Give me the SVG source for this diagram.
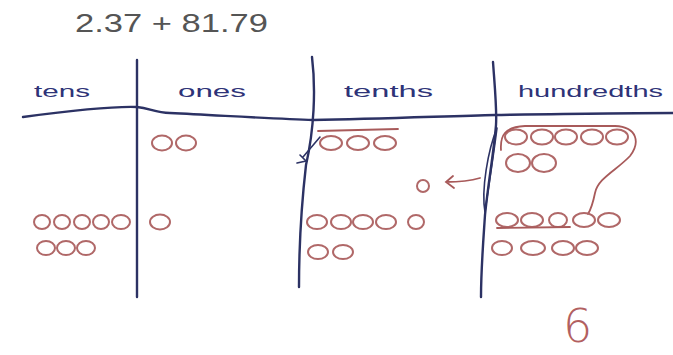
<svg xmlns="http://www.w3.org/2000/svg" width="673" height="355" viewBox="0 0 673 355">
<style>
.ln{fill:none;stroke:#2c3264;stroke-width:2.4;stroke-linecap:round}
.thin{fill:none;stroke:#2c3264;stroke-width:1.6;stroke-linecap:round}
.c{fill:none;stroke:#b06868;stroke-width:2}
.rd{fill:none;stroke:#a85a5a;stroke-width:1.8;stroke-linecap:round}
.lbl{font-family:"Liberation Sans",Arial,sans-serif;font-size:17px;fill:#2e3378}
.title{font-family:"Liberation Sans",Arial,sans-serif;font-size:25px;fill:#555}
</style>
<rect width="673" height="355" fill="#fff"/>
<text class="title" x="75" y="32" textLength="193" lengthAdjust="spacingAndGlyphs">2.37 + 81.79</text>
<g id="labels">
<text class="lbl" x="34" y="97" textLength="56" lengthAdjust="spacingAndGlyphs">tens</text>
<text class="lbl" x="178" y="97" textLength="68" lengthAdjust="spacingAndGlyphs">ones</text>
<text class="lbl" x="344" y="97" textLength="89" lengthAdjust="spacingAndGlyphs">tenths</text>
<text class="lbl" x="518" y="97" textLength="145" lengthAdjust="spacingAndGlyphs">hundredths</text>
</g>
<g id="grid">
<path class="ln" d="M23,117 C60,112 110,106 137,107 C150,108 155,113 170,113 C230,116 280,119 313,120 C380,119 450,116 495,115 C560,114 620,113 673,113"/>
<path class="ln" d="M137,60 L137,297"/>
<path class="ln" d="M312,57 C316,90 314,130 306,165 C302,200 299,250 299,287"/>
<path class="ln" d="M493,62 C495,90 497,110 496,125 C494,150 488,185 485,215 C483,245 481,270 481,297"/>
</g>
<g id="ones">
<ellipse class="c" cx="162" cy="143" rx="10" ry="7.5"/>
<ellipse class="c" cx="186" cy="143" rx="10" ry="7.5"/>
<ellipse class="c" cx="160" cy="222" rx="10" ry="7.5"/>
</g>
<g id="tens">
<ellipse class="c" cx="42" cy="222" rx="8" ry="7"/>
<ellipse class="c" cx="62" cy="222" rx="8" ry="7"/>
<ellipse class="c" cx="82" cy="222" rx="8" ry="7"/>
<ellipse class="c" cx="101" cy="222" rx="8" ry="7"/>
<ellipse class="c" cx="121" cy="222" rx="9" ry="7"/>
<ellipse class="c" cx="46" cy="248" rx="9" ry="7"/>
<ellipse class="c" cx="66" cy="248" rx="9" ry="7"/>
<ellipse class="c" cx="86" cy="248" rx="9" ry="7"/>
</g>
<g id="tenths">
<path class="rd" d="M318,131 L398,129"/>
<path class="thin" d="M320,137 L303,157 M297,163 L306,161 L300,155"/>
<ellipse class="c" cx="331" cy="143" rx="11" ry="7"/>
<ellipse class="c" cx="358" cy="143" rx="11" ry="7"/>
<ellipse class="c" cx="385" cy="143" rx="11" ry="7"/>
<ellipse class="c" cx="423" cy="186" rx="6" ry="6"/>
<ellipse class="c" cx="317" cy="222" rx="10" ry="7"/>
<ellipse class="c" cx="341" cy="222" rx="10" ry="7"/>
<ellipse class="c" cx="363" cy="222" rx="10" ry="7"/>
<ellipse class="c" cx="386" cy="222" rx="10" ry="7"/>
<ellipse class="c" cx="416" cy="222" rx="8" ry="7"/>
<ellipse class="c" cx="318" cy="252" rx="10" ry="7"/>
<ellipse class="c" cx="343" cy="252" rx="10" ry="7"/>
</g>
<g id="hundredths">
<ellipse class="c" cx="516" cy="137" rx="11" ry="7.5"/>
<ellipse class="c" cx="542" cy="137" rx="11" ry="7.5"/>
<ellipse class="c" cx="566" cy="137" rx="11" ry="7.5"/>
<ellipse class="c" cx="592" cy="137" rx="11" ry="7.5"/>
<ellipse class="c" cx="617" cy="137" rx="11" ry="7.5"/>
<ellipse class="c" cx="518" cy="163" rx="12" ry="9"/>
<ellipse class="c" cx="544" cy="163" rx="12" ry="9"/>
<path class="rd" d="M501,150 C500,135 505,127 525,126 L615,126 C638,127 640,143 630,156 C617,170 598,178 595,193 C593,203 591,209 588,214"/>
<ellipse class="c" cx="507" cy="220" rx="11" ry="7"/>
<ellipse class="c" cx="532" cy="220" rx="11" ry="7"/>
<ellipse class="c" cx="558" cy="220" rx="9" ry="7"/>
<ellipse class="c" cx="584" cy="220" rx="11" ry="7"/>
<ellipse class="c" cx="609" cy="220" rx="11" ry="7"/>
<path class="rd" d="M497,228 L570,227"/>
<ellipse class="c" cx="502" cy="248" rx="10" ry="7"/>
<ellipse class="c" cx="533" cy="248" rx="12" ry="7"/>
<ellipse class="c" cx="563" cy="248" rx="11" ry="7"/>
<ellipse class="c" cx="587" cy="248" rx="11" ry="7"/>
<text x="563" y="342" font-family="DejaVu Sans, sans-serif" font-weight="200" font-size="46" fill="#b26060">6</text>
</g>
<g id="connectors">
<path class="thin" d="M497,128 C488,150 481,190 485,212 C488,190 493,160 497,128"/>
<path class="rd" d="M480,178 C470,181 458,182 446,182 M453,176 L446,182 L454,188"/>
</g>
</svg>
